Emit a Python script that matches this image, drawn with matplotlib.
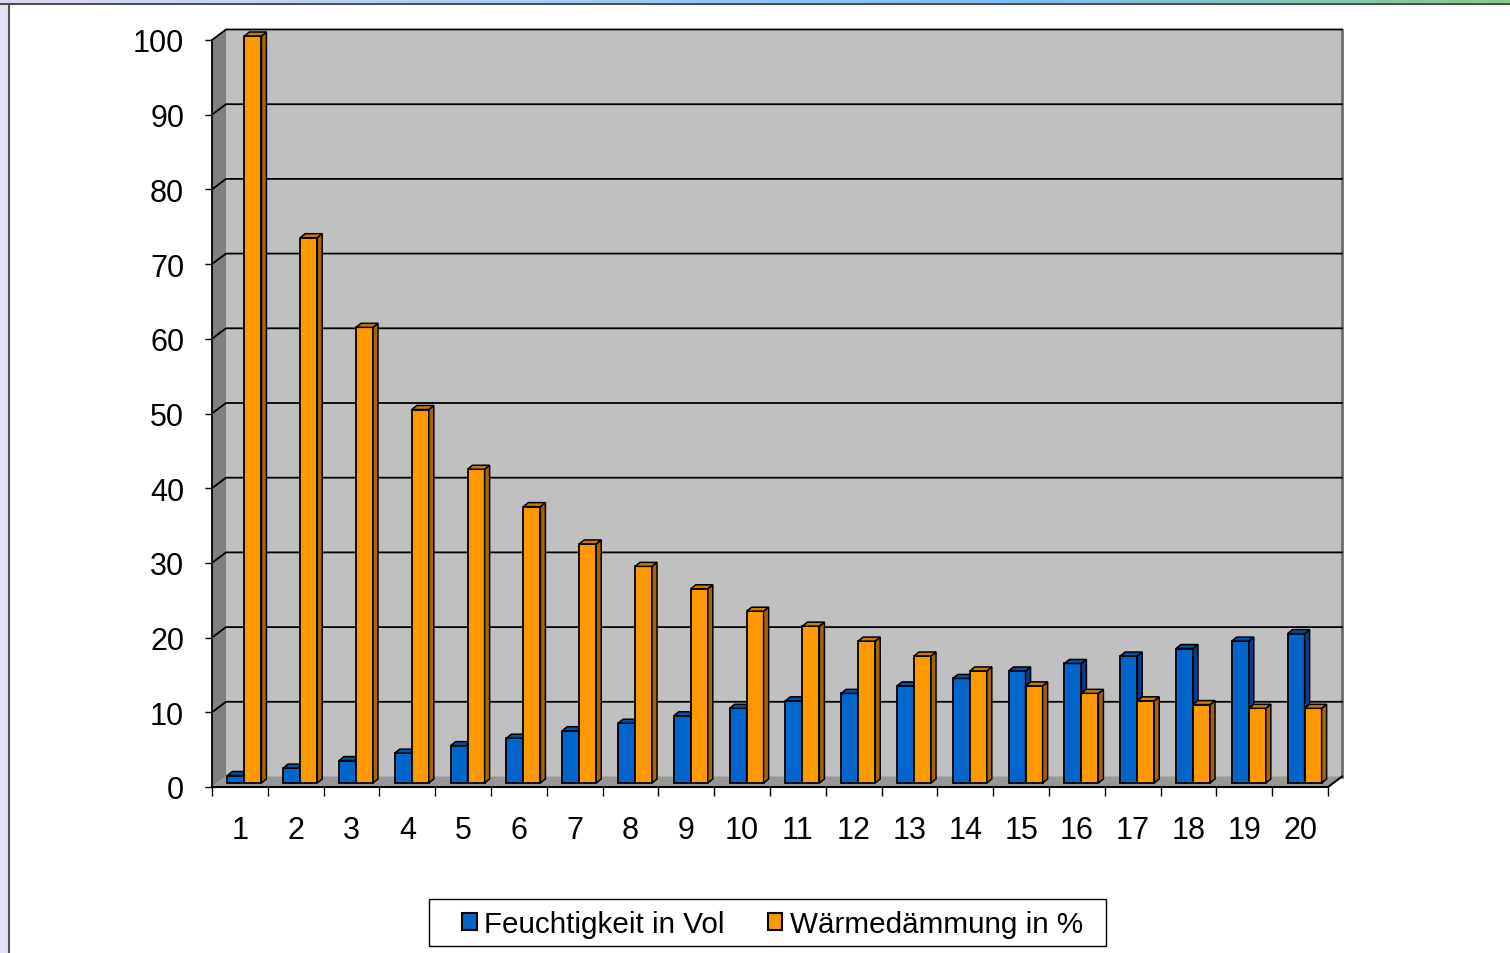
import numpy as np
import matplotlib
matplotlib.use("Agg")
import matplotlib.pyplot as plt
from matplotlib.patches import Polygon, Rectangle, Patch
from matplotlib.lines import Line2D
from matplotlib.colors import LinearSegmentedColormap

plt.rcParams['font.family'] = ['Liberation Sans', 'DejaVu Sans']

# ---- data ----
categories = [str(i) for i in range(1, 21)]
feuchtigkeit = [1, 2, 3, 4, 5, 6, 7, 8, 9, 10, 11, 12, 13, 14, 15, 16, 17, 18, 19, 20]
waermedaemmung = [100, 73, 61, 50, 42, 37, 32, 29, 26, 23, 21, 19, 17, 15, 13, 12, 11, 10.5, 10, 10]
series_names = ['Feuchtigkeit in Vol', 'Wärmedämmung in %']
y_ticks = list(range(0, 101, 10))

# ---- figure / axes geometry (pixels) ----
W, H = 1510, 954
fig = plt.figure(figsize=(W / 100, H / 100), dpi=100)
fig.patch.set_facecolor('white')

x0px, x1px = 212, 1328
y0px, y1px = 788, 41
ax = fig.add_axes([x0px / W, 1 - y0px / H, (x1px - x0px) / W, (y0px - y1px) / H])
n = len(categories)
ax.set_xlim(0.5, n + 0.5)
ax.set_ylim(0, 100)
ax.patch.set_visible(False)
for s in ax.spines.values():
    s.set_visible(False)

pxx = (x1px - x0px) / n
pxy = (y0px - y1px) / 100.0


def dx(p):
    return p / pxx


def dy(p):
    return p / pxy


# depth of the chart box
bx, by = dx(14), dy(10.5)
xl, xr = 0.5, n + 0.5

# walls
back = Polygon([(xl + bx, by), (xr + bx, by), (xr + bx, 100 + by), (xl + bx, 100 + by)],
               closed=True, facecolor='#C0C0C0', edgecolor='none', zorder=0.2, clip_on=False)
side = Polygon([(xl, 0), (xl + bx, by), (xl + bx, 100 + by), (xl, 100)],
               closed=True, facecolor='#808080', edgecolor='none', zorder=0.3, clip_on=False)
floor = Polygon([(xl, 0), (xr, 0), (xr + bx, by), (xl + bx, by)],
                closed=True, facecolor='#979797', edgecolor='none', zorder=0.3, clip_on=False)
for p in (back, side, floor):
    ax.add_patch(p)

# right edge of back wall
ax.plot([xr + bx, xr + bx], [by, 100 + by], color='#6E6E6E', lw=2, clip_on=False, zorder=0.4)

# gridlines across side wall and back wall
for v in y_ticks[1:]:
    ax.plot([xl, xl + bx, xr + bx], [v, v + by, v + by], color='black', lw=1.3,
            clip_on=False, zorder=1, solid_joinstyle='miter')

# axis lines
ax.plot([xl, xl], [0, 100], color='black', lw=1.3, clip_on=False, zorder=1.1)
ax.plot([xl, xr, xr + bx], [0, 0, by], color='black', lw=1.5, clip_on=False, zorder=1.1)

# ---- 3D columns ----
fx, fy = dx(4.5), dy(4)        # offset of bar front faces into the box
ddx, ddy = dx(5), dy(4)        # bar depth
w = 0.305
x = np.arange(1, n + 1)
colors = [('#0066CC', '#003F8F', '#0052A8'), ('#FF9900', '#A86400', '#CC7A00')]
series = [feuchtigkeit, waermedaemmung]

for s_idx, (vals, (cf, cs, ct)) in enumerate(zip(series, colors)):
    xs = x + fx + (s_idx - 0.5) * w
    bars = ax.bar(xs, vals, width=w, bottom=fy, color=cf, edgecolor='black',
                  linewidth=1.3, clip_on=False)
    for i, (rect, h) in enumerate(zip(bars.patches, vals)):
        z = 2 + i * 4 + s_idx * 2
        rect.set_zorder(z)
        x0 = rect.get_x()
        x1 = x0 + w
        top = fy + h
        sidef = Polygon([(x1, fy), (x1 + ddx, fy + ddy), (x1 + ddx, top + ddy), (x1, top)],
                        closed=True, facecolor=cs, edgecolor='black', lw=1.1,
                        zorder=z + 1, clip_on=False, joinstyle='miter')
        topf = Polygon([(x0, top), (x1, top), (x1 + ddx, top + ddy), (x0 + ddx, top + ddy)],
                       closed=True, facecolor=ct, edgecolor='black', lw=1.1,
                       zorder=z + 1, clip_on=False, joinstyle='miter')
        ax.add_patch(sidef)
        ax.add_patch(topf)

# ---- ticks ----
ax.set_yticks(y_ticks)
ax.tick_params(axis='y', direction='out', length=5, width=1, pad=15, labelsize=22,
               colors='black')
ax.set_xticks(x, labels=categories)
ax.set_xticks(np.arange(0.5, n + 1), minor=True)
ax.tick_params(axis='x', which='major', length=0, pad=20, labelsize=22)
ax.tick_params(axis='x', which='minor', direction='out', length=6.5, width=1)

# ---- legend ----
handles = [Patch(facecolor=c[0], edgecolor='black', linewidth=1.5) for c in colors]
fig.legend(handles, series_names, loc='center',
           bbox_to_anchor=(772.5 / W, 1 - 925 / H), frameon=False, ncol=2, fontsize=21.3,
           handlelength=0.5, handleheight=0.5, handletextpad=0.24, columnspacing=1.45)
fig.add_artist(Rectangle((429 / W, 1 - 947 / H), 677 / W, 47 / H, transform=fig.transFigure,
                         fill=False, edgecolor='black', lw=1))

# ---- window frame ----
grad_ax = fig.add_axes([0, 1 - 4 / H, 1, 4 / H])
grad_ax.set_axis_off()
cmap = LinearSegmentedColormap.from_list('band', ['#DCD8F0', '#A8CCF2', '#80BEF4', '#8CCB8C'])
grad_ax.imshow(np.linspace(0, 1, 256)[None, :], aspect='auto', cmap=cmap,
               extent=(0, 1, 0, 1))
fig.add_artist(Line2D([0, 1], [1 - 5 / H, 1 - 5 / H], transform=fig.transFigure,
                      color='#3C3C3C', lw=1.3))
fig.add_artist(Rectangle((0, 0), 8 / W, 1 - 5 / H, transform=fig.transFigure,
                         facecolor='#E6E2F5', edgecolor='none'))
fig.add_artist(Line2D([9 / W, 9 / W], [0, 1 - 5 / H], transform=fig.transFigure,
                      color='#555555', lw=1.5))

fig.savefig('out.png', dpi=100)
